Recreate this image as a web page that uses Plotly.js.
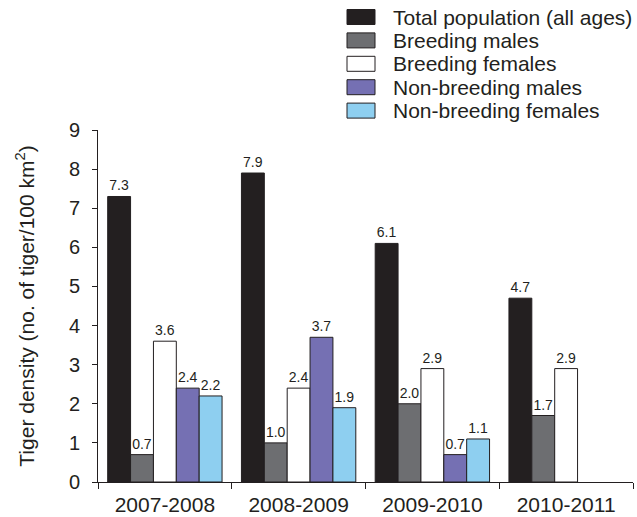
<!DOCTYPE html>
<html>
<head>
<meta charset="utf-8">
<script src="https://cdn.plot.ly/plotly-3.0.1.min.js"></script>
<style>
  html, body { margin: 0; padding: 0; background: #ffffff; }
  #chart { width: 637px; height: 517px; }
</style>
</head>
<body>
<div id="chart"></div>
<script>
// ---- data ----
const categories = ["2007-2008", "2008-2009", "2009-2010", "2010-2011"];
const seriesNames = [
  "Total population (all ages)",
  "Breeding males",
  "Breeding females",
  "Non-breeding males",
  "Non-breeding females"
];
const totalPopulation     = [7.3, 7.9, 6.1, 4.7];
const breedingMales       = [0.7, 1.0, 2.0, 1.7];
const breedingFemales     = [3.6, 2.4, 2.9, 2.9];
const nonBreedingMales    = [2.4, 3.7, 0.7, null];
const nonBreedingFemales  = [2.2, 1.9, 1.1, null];
const yTickValues = [0, 1, 2, 3, 4, 5, 6, 7, 8, 9];

// ---- styles ----
const seriesValues = [totalPopulation, breedingMales, breedingFemales, nonBreedingMales, nonBreedingFemales];
const colors = ["#231f20", "#6d6e71", "#ffffff", "#7570b3", "#8ecff0"];
const outline = "#231f20";
const FONT = "Liberation Sans, Arial, Helvetica, sans-serif";

const traces = seriesValues.map((vals, i) => {
  const idx = vals.map((v, j) => j).filter(j => vals[j] != null);
  return {
    type: "bar",
    name: seriesNames[i],
    x: idx.map(j => categories[j]),
    y: idx.map(j => vals[j]),
    marker: { color: colors[i], line: { color: outline, width: 1 } },
    text: idx.map(j => vals[j].toFixed(1)),
    textposition: "outside",
    textfont: { family: FONT, size: 14, color: "#231f20" },
    cliponaxis: false,
    showlegend: false,
    hoverinfo: "x+y+name"
  };
});

// custom legend (boxes + labels) built from series names/colors
const legendShapes = [];
const legendAnnotations = [];
const plotL = 98, plotR = 633, plotT = 130, plotB = 482;
const pw = plotR - plotL, ph = plotB - plotT;
const toPx = px => (px - plotL) / pw;
const toPy = py => (plotB - py) / ph;
seriesNames.forEach((name, i) => {
  const cy = 17 + i * 23.4;
  legendShapes.push({
    type: "rect", xref: "paper", yref: "paper",
    x0: toPx(347), x1: toPx(375), y0: toPy(cy + 7.5), y1: toPy(cy - 7.5),
    fillcolor: colors[i], line: { color: outline, width: 1 }
  });
  legendAnnotations.push({
    xref: "paper", yref: "paper", x: toPx(391), y: toPy(cy),
    xanchor: "left", yanchor: "middle", showarrow: false,
    text: name, font: { family: FONT, size: 21, color: "#231f20" }
  });
});

const layout = {
  width: 637, height: 517,
  margin: { l: plotL, r: 637 - plotR, t: plotT, b: 517 - plotB, pad: 0 },
  paper_bgcolor: "#ffffff", plot_bgcolor: "#ffffff",
  barmode: "group",
  bargap: 0.145,
  bargroupgap: 0,
  showlegend: false,
  font: { family: FONT, color: "#231f20" },
  xaxis: {
    type: "category",
    range: [-0.5, 3.5],
    tickson: "boundaries",
    ticks: "outside", ticklen: 6, tickwidth: 1, tickcolor: "#231f20",
    showline: true, linecolor: "#231f20", linewidth: 1,
    showgrid: false, zeroline: false,
    ticklabelstandoff: 4,
    tickfont: { family: FONT, size: 21, color: "#231f20" }
  },
  yaxis: {
    range: [0, 9],
    tickvals: yTickValues,
    ticks: "outside", ticklen: 5, tickwidth: 1, tickcolor: "#231f20",
    showline: true, linecolor: "#231f20", linewidth: 1,
    showgrid: false, zeroline: false,
    ticklabelstandoff: 8,
    tickfont: { family: FONT, size: 20, color: "#231f20" },
    automargin: false,
    title: {
      text: "Tiger density (no. of tiger/100 km<sup>2</sup>)",
      font: { family: FONT, size: 21, color: "#231f20" },
      standoff: 28
    }
  },
  shapes: legendShapes,
  annotations: legendAnnotations
};

Plotly.newPlot("chart", traces, layout, { displayModeBar: false, staticPlot: true });
</script>
</body>
</html>
